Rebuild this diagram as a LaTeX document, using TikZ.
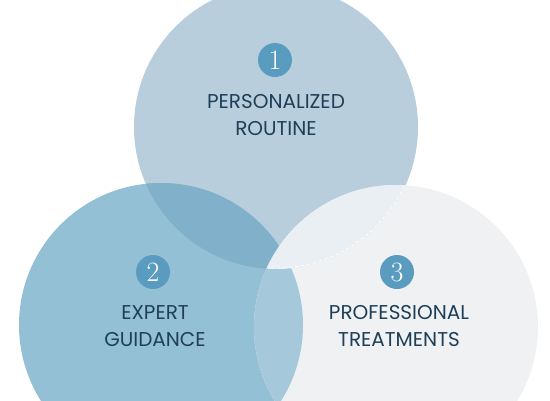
\documentclass[tikz,border=0pt]{standalone}
\usepackage{fontspec}
\newfontfamily\labelfont{Poppins}
\definecolor{VennTop}{HTML}{B8CEDD}
\definecolor{VennLeft}{HTML}{93C0D5}
\definecolor{VennRight}{HTML}{EFF1F3}
\definecolor{VennTopLeft}{HTML}{80B0CA}
\definecolor{VennLeftRight}{HTML}{A5C9DB}
\definecolor{VennTopRight}{HTML}{EAEFF3}
\definecolor{VennBadge}{HTML}{5A9CBF}
\definecolor{VennText}{HTML}{1F3F58}
\usetikzlibrary{positioning}
\tikzset{
    venn/.style={
        circle,
        fill=#1,
        minimum size=284pt,
        inner sep=0pt
    },
    venn/.default=VennTop,
    badge/.style={
        circle,
        fill=VennBadge,
        minimum size=34pt,
        inner sep=0pt,
        text=white,
        font=\fontsize{28}{28}\selectfont
    },
    caption/.style={
        text=VennText,
        font=\labelfont\fontsize{20}{27}\selectfont,
        align=center,
        inner sep=0pt
    }
}
\begin{document}
\begin{tikzpicture}[x=1pt, y=-1pt]
        \useasboundingbox (0,0) rectangle (550,400);

        % Circles
        \node[venn=VennTop] (routine) at (276,127) {};
        \node[venn=VennLeft] (guidance) at (161,325) {};
        \begin{scope}
            \clip (276,127) circle (142pt);
            \fill[VennTopLeft] (161,325) circle (142pt);
        \end{scope}
        \node[venn=VennRight] (treatments) at (396,327) {};
        \begin{scope}
            \clip (161,325) circle (142pt);
            \fill[VennLeftRight] (396,327) circle (142pt);
        \end{scope}
        \begin{scope}
            \clip (276,127) circle (142pt);
            \fill[VennTopRight] (396,327) circle (142pt);
            \clip (396,327) circle (141pt);
            \draw[white, dashed, line width=0.8pt] (276,127) circle (141pt);
        \end{scope}

        % Badges
        \node[badge] (one) at (275,60) {1};
        \node[badge] (two) at (153,272) {2};
        \node[badge] (three) at (397,272) {3};

        % Labels
        \node[caption] (routinetext) at (276,115) {PERSONALIZED\\ROUTINE};
        \node[caption] (guidancetext) at (155,326) {EXPERT\\GUIDANCE};
        \node[caption] (treatmentstext) at (399,326) {PROFESSIONAL\\TREATMENTS};
    \end{tikzpicture}
\end{document}
